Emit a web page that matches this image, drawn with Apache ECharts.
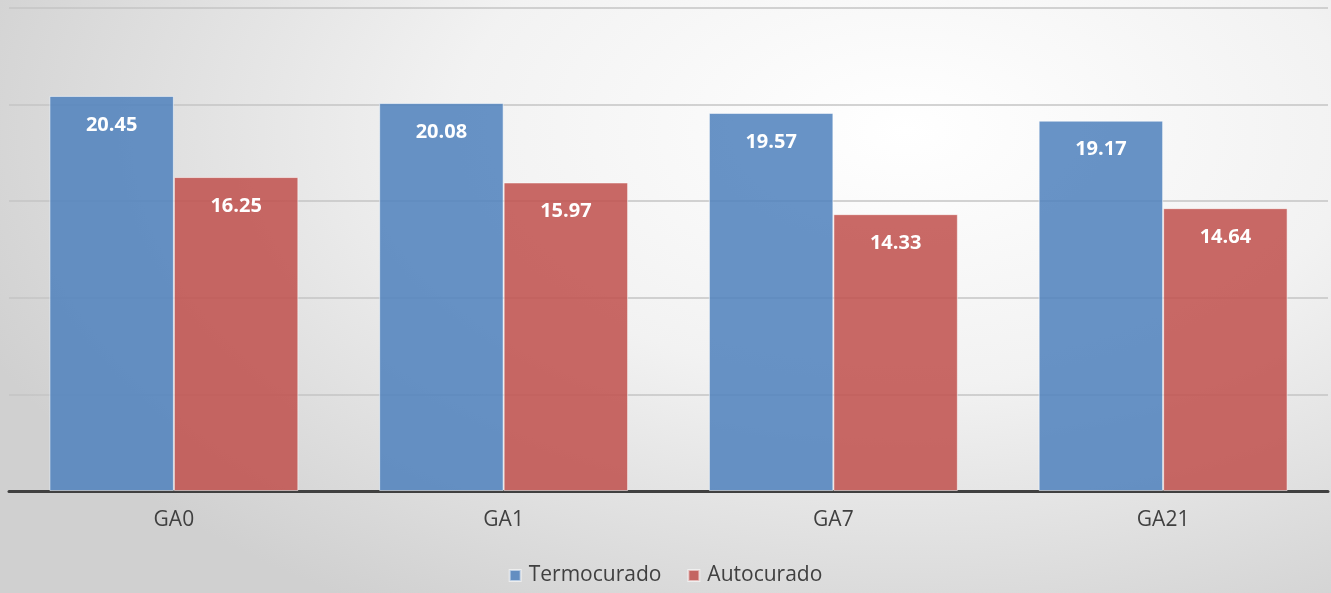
<!DOCTYPE html>
<html>
<head>
<meta charset="utf-8">
<script src="https://cdn.jsdelivr.net/npm/echarts@6/dist/echarts.min.js"></script>
<style>
  html, body { margin: 0; padding: 0; }
  #chart {
    width: 1331px;
    height: 593px;
    background: radial-gradient(ellipse 75% 95% at 68% 22%, #ffffff 0%, #f2f2f2 45%, #d0d0d0 100%);
  }
</style>
</head>
<body>
<div id="chart"></div>
<script>
const categories = ['GA0', 'GA1', 'GA7', 'GA21'];
const termocurado = [20.45, 20.08, 19.57, 19.17];
const autocurado = [16.25, 15.97, 14.33, 14.64];

const chart = echarts.init(document.getElementById('chart'));

const barLabel = {
  show: true,
  position: 'insideTop',
  distance: 19,
  color: '#ffffff',
  fontFamily: 'Open Sans',
  fontWeight: 'bold',
  fontSize: 20,
  formatter: (p) => p.value.toFixed(2),
};

chart.setOption({
  backgroundColor: 'transparent',
  animation: false,
  grid: { left: 9, right: 3, top: 8, bottom: 102 },
  legend: {
    bottom: 2,
    left: 'center',
    icon: 'rect',
    itemWidth: 11,
    itemHeight: 11,
    itemGap: 26,
    textStyle: {
      color: '#404040',
      fontFamily: 'Open Sans',
      fontSize: 21,
      padding: [0, 0, 0, 3],
    },
    data: ['Termocurado', 'Autocurado'],
  },
  xAxis: {
    type: 'category',
    data: categories,
    axisTick: { show: false },
    axisLine: { lineStyle: { color: '#404040', width: 3 } },
    axisLabel: { color: '#404040', fontFamily: 'Open Sans', fontSize: 21, margin: 19 },
  },
  yAxis: {
    type: 'value',
    min: 0,
    max: 25,
    interval: 5,
    axisLabel: { show: false },
    axisLine: { show: false },
    axisTick: { show: false },
    splitLine: { lineStyle: { color: '#c4c4c4', width: 1.5 } },
  },
  series: [
    {
      name: 'Termocurado',
      type: 'bar',
      data: termocurado,
      barGap: '0%',
      barCategoryGap: '24.5%',
      itemStyle: {
        color: 'rgba(79, 129, 189, 0.86)',
        borderColor: 'rgba(255, 255, 255, 0.55)',
        borderWidth: 1,
      },
      label: barLabel,
    },
    {
      name: 'Autocurado',
      type: 'bar',
      data: autocurado,
      itemStyle: {
        color: 'rgba(192, 80, 77, 0.86)',
        borderColor: 'rgba(255, 255, 255, 0.55)',
        borderWidth: 1,
      },
      label: barLabel,
    },
  ],
});
</script>
</body>
</html>
